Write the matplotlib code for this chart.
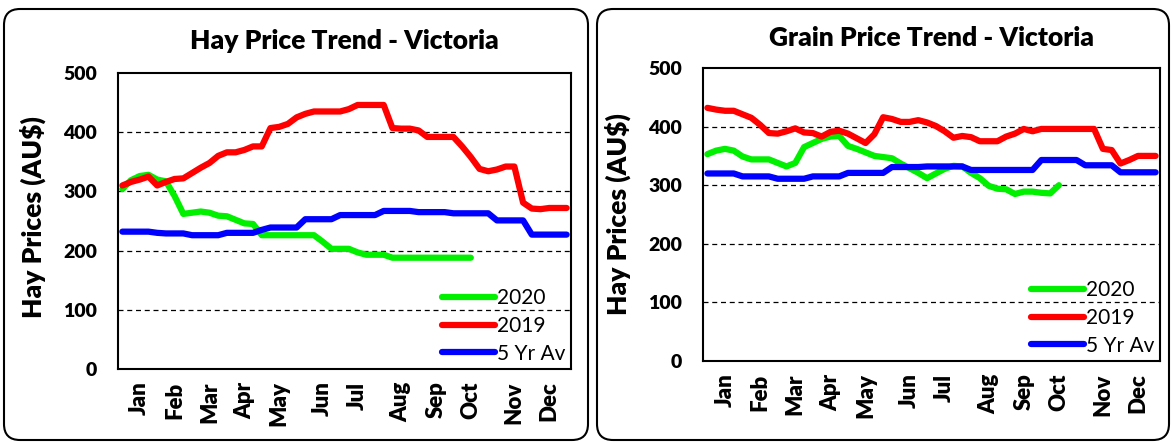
import matplotlib
matplotlib.use("Agg")
from matplotlib import pyplot as plt
from matplotlib.patches import FancyBboxPatch
from matplotlib.transforms import IdentityTransform
import numpy as np

plt.rcParams['font.family'] = ['Lato', 'DejaVu Sans']

# weekly prices, week 1 .. week 52
months = ["Jan", "Feb", "Mar", "Apr", "May", "Jun",
          "Jul", "Aug", "Sep", "Oct", "Nov", "Dec"]
month_weeks = [2, 6, 10, 14, 18, 23, 27, 32, 36, 40, 45, 49]

hay_2020 = [304, 319, 326, 328, 320, 317, 292, 262, 264, 266,
            264, 259, 258, 252, 246, 245, 226, 226, 226, 226,
            226, 226, 226, 215, 203, 203, 203, 197, 193, 193,
            193, 188, 188, 188, 188, 188, 188, 188, 188, 188, 188]
hay_2019 = [310, 316, 320, 325, 310, 316, 321, 322, 331, 340,
            348, 360, 366, 366, 370, 376, 376, 407, 409, 414,
            425, 431, 435, 435, 435, 435, 439, 446, 446, 446,
            446, 407, 406, 406, 403, 392, 392, 392, 392, 376,
            358, 338, 334, 337, 342, 342, 281, 271, 270, 272,
            272, 272]
hay_5yr = ([232] * 4 + [230] + [229] * 3 + [226] * 4 + [230] * 4 + [235]
           + [239] * 4 + [253] * 4 + [260] * 5 + [267] * 4 + [265] * 4
           + [263] * 5 + [251] * 4 + [227] * 5)

grain_2020 = [353, 359, 362, 359, 349, 344, 344, 344, 338, 332,
              338, 365, 372, 379, 383, 384, 367, 362, 356, 350,
              348, 346, 337, 329, 321, 312, 320, 328, 333, 332,
              321, 312, 299, 294, 293, 285, 289, 289, 287, 286, 300]
grain_2019 = [432, 429, 427, 427, 421, 415, 403, 389, 388, 392,
              397, 390, 389, 383, 391, 393, 388, 380, 372, 387,
              416, 413, 408, 408, 411, 407, 401, 392, 381, 384,
              382, 375, 375, 375, 383, 388, 396, 392, 396, 396,
              396, 396, 396, 396, 396, 362, 360, 337, 343, 350,
              350, 350]
grain_5yr = ([320] * 4 + [315] * 4 + [311] * 4 + [315] * 4 + [321] * 5
             + [331] * 4 + [332] * 5 + [326] * 4 + [326] * 4 + [343] * 5
             + [334] * 4 + [322] * 5)

W, H = 1172, 442
fig = plt.figure(figsize=(W / 100, H / 100), dpi=100)


def px_axes(x0, y0, x1, y1):
    # pixel box (top-left origin) -> figure fraction axes
    return fig.add_axes([x0 / W, (H - y1) / H, (x1 - x0) / W, (y1 - y0) / H])


def rounded_box(x0, y0, x1, y1):
    box = FancyBboxPatch((x0, H - y1), x1 - x0, y1 - y0,
                         boxstyle="round,pad=0,rounding_size=16",
                         transform=IdentityTransform(),
                         facecolor="none", edgecolor="black", linewidth=1.5)
    fig.add_artist(box)


def price_chart(ax, title, y2020, y2019, y5yr, title_pad, ylab_xy):
    weeks = np.arange(52)
    ax.plot(np.arange(len(y2020)), y2020, color="#00f000", lw=4.5,
            label="2020", zorder=2, solid_capstyle="round")
    ax.plot(weeks, y2019, color="#ff0000", lw=4.5, label="2019",
            zorder=3, solid_capstyle="round")
    ax.plot(weeks, y5yr, color="#0000ff", lw=4.5, label="5 Yr Av",
            zorder=4, solid_capstyle="round")

    ax.set_xlim(-0.5, 51.5)
    ax.set_ylim(0, 500)
    ax.set_yticks([0, 100, 200, 300, 400, 500])
    ax.set_xticks(month_weeks)
    ax.set_xticklabels(months, rotation=90, fontsize=16, fontweight="heavy")
    ax.tick_params(axis="x", length=0, pad=9)
    ax.tick_params(axis="y", length=0, pad=15, labelsize=14)
    for lab in ax.get_yticklabels():
        lab.set_fontweight("heavy")
    for y in [100, 200, 300, 400]:
        ax.axhline(y, color="black", lw=0.9, ls=(0, (4, 3)), zorder=1)
    for s in ax.spines.values():
        s.set_linewidth(1.5)
    ax.set_ylabel("Hay Prices (AU$)", fontsize=19, fontweight="heavy",
                  va="center", ha="center")
    ax.yaxis.set_label_coords(*ylab_xy)
    ax.set_title(title, fontsize=19, fontweight="heavy", pad=title_pad)
    ax.legend(loc="lower right", bbox_to_anchor=(1.0, 0.0), frameon=False,
              fontsize=15, handlelength=2.55, handletextpad=0.1,
              labelspacing=0.37, borderaxespad=0.0, borderpad=0.25)


rounded_box(4, 9, 588, 440)
rounded_box(597, 9, 1169, 440)

ax1 = px_axes(118, 73, 571, 369)
price_chart(ax1, "Hay Price Trend - Victoria", hay_2020, hay_2019, hay_5yr,
            17, (-0.189, 0.513))

ax2 = px_axes(703, 68, 1160, 361)
price_chart(ax2, "Grain Price Trend - Victoria", grain_2020, grain_2019,
            grain_5yr, 16, (-0.186, 0.502))

fig.savefig("out.png", dpi=100)
